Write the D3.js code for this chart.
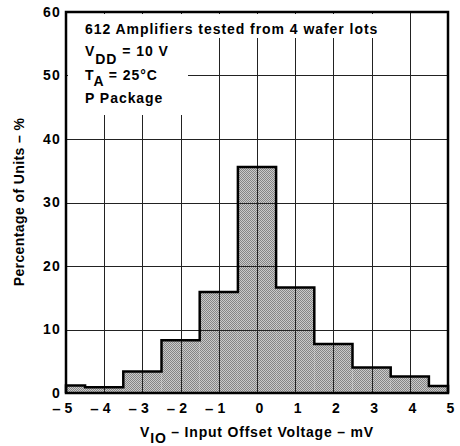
<!DOCTYPE html>
<html>
<head>
<meta charset="utf-8">
<script src="https://cdn.jsdelivr.net/npm/d3@7"></script>
<style>
  html, body { margin: 0; padding: 0; background: #fff; }
  svg { display: block; font-family: "Liberation Sans", Arial, Helvetica, sans-serif; font-weight: bold; }
</style>
</head>
<body>
<svg id="chart" width="460" height="446"></svg>
<script>
// ---- data ----
const binStart = [-5, -4.5, -3.5, -2.5, -1.5, -0.5, 0.5, 1.5, 2.5, 3.5, 4.5];
const binEnd   = [-4.5, -3.5, -2.5, -1.5, -0.5, 0.5, 1.5, 2.5, 3.5, 4.5, 5];
const percent  = [1.2, 0.9, 3.4, 8.3, 15.9, 35.6, 16.6, 7.7, 4.0, 2.6, 1.1];
const xTicks = [-5, -4, -3, -2, -1, 0, 1, 2, 3, 4, 5];
const yTicks = [0, 10, 20, 30, 40, 50, 60];
const titleLine = "612 Amplifiers tested from 4 wafer lots";

const svg = d3.select("#chart");
const x = d3.scaleLinear().domain([-5, 5]).range([66, 448]);
const y = d3.scaleLinear().domain([0, 60]).range([393, 12]);

// pattern for stipple fill
const defs = svg.append("defs");
const pat = defs.append("pattern").attr("id", "stip").attr("patternUnits", "userSpaceOnUse")
  .attr("width", 2).attr("height", 2);
pat.append("rect").attr("width", 2).attr("height", 2).attr("fill", "#cacaca");
pat.append("rect").attr("x", 0).attr("y", 0).attr("width", 1).attr("height", 1).attr("fill", "#858585");
pat.append("rect").attr("x", 1).attr("y", 1).attr("width", 1).attr("height", 1).attr("fill", "#858585");

const bins = binStart.map((s, i) => ({ s, e: binEnd[i], v: percent[i] }));

// bars fill
svg.append("g").selectAll("rect").data(bins).join("rect")
  .attr("x", d => x(d.s)).attr("width", d => x(d.e) - x(d.s))
  .attr("y", d => y(d.v)).attr("height", d => y(0) - y(d.v))
  .attr("fill", "url(#stip)");

// grid
const grid = svg.append("g").attr("stroke", "#222").attr("stroke-width", 1);
grid.selectAll("line.v").data(xTicks.slice(1, -1)).join("line")
  .attr("x1", d => Math.round(x(d)) + 0.5).attr("x2", d => Math.round(x(d)) + 0.5)
  .attr("y1", y(60)).attr("y2", y(0));
grid.selectAll("line.h").data(yTicks.slice(1, -1)).join("line")
  .attr("y1", d => Math.round(y(d)) + 0.5).attr("y2", d => Math.round(y(d)) + 0.5)
  .attr("x1", x(-5)).attr("x2", x(5));

// histogram outline
const pts = bins.map(d => [d.s, d.v]).concat([[5, percent[percent.length - 1]]]);
const outline = [[-5, 0]].concat(pts).concat([[5, 0]]);
const line = d3.line().x(d => x(d[0])).y(d => y(d[1])).curve(d3.curveStepAfter);
svg.append("path").attr("d", line(outline)).attr("fill", "none")
  .attr("stroke", "#000").attr("stroke-width", 2.5).attr("stroke-linejoin", "miter");

// white boxes behind annotation text
svg.append("rect").attr("x", x(-5) + 2).attr("y", y(60) + 2).attr("width", 314).attr("height", 24).attr("fill", "#fff");
svg.append("rect").attr("x", x(-5) + 2).attr("y", y(60) + 2).attr("width", 120).attr("height", 101).attr("fill", "#fff");

// frame
svg.append("rect").attr("x", x(-5)).attr("y", y(60)).attr("width", x(5) - x(-5)).attr("height", y(0) - y(60))
  .attr("fill", "none").attr("stroke", "#000").attr("stroke-width", 2.5);

// axes
const yAxis = d3.axisLeft(y).tickValues(yTicks).tickSize(0).tickPadding(6);
const gy = svg.append("g").attr("transform", `translate(${x(-5)},0)`).call(yAxis);
gy.select(".domain").remove();
gy.selectAll("text").attr("font-size", 14).attr("font-weight", "bold").attr("fill", "#000")
  .attr("letter-spacing", 1.2).attr("dx", 1)
  .attr("font-family", "Liberation Sans, Arial, sans-serif");

const xAxis = d3.axisBottom(x).tickValues(xTicks).tickFormat(d => String(Math.abs(d))).tickSize(0).tickPadding(10);
const gx = svg.append("g").attr("transform", `translate(0,${y(0)})`).call(xAxis);
gx.select(".domain").remove();
gx.selectAll("text").attr("font-size", 14).attr("font-weight", "bold").attr("fill", "#000")
  .attr("dx", 2).attr("font-family", "Liberation Sans, Arial, sans-serif");
// minus signs for negative ticks, placed left of the digit
gx.selectAll(".tick").filter(d => d < 0).append("text")
  .attr("x", -6).attr("y", 10).attr("dy", "0.71em")
  .attr("text-anchor", "end").attr("font-size", 15).attr("fill", "#000")
  .attr("font-family", "Liberation Sans, Arial, sans-serif")
  .text("\u2013");

// annotation
const ann = svg.append("g").attr("font-size", 14).attr("fill", "#000").attr("letter-spacing", 0.95);
ann.append("text").attr("x", 85).attr("y", 34).text(titleLine);
const t1 = ann.append("text").attr("x", 85).attr("y", 56);
t1.append("tspan").text("V");
t1.append("tspan").attr("dy", 8).text("DD");
t1.append("tspan").attr("dy", -8).text(" = 10 V");
const t2 = ann.append("text").attr("x", 85).attr("y", 80);
t2.append("tspan").text("T");
t2.append("tspan").attr("dy", 6).text("A");
t2.append("tspan").attr("dy", -6).text(" = 25\u00B0C");
ann.append("text").attr("x", 85).attr("y", 103).text("P Package");

// axis titles
const xl = svg.append("text").attr("x", 257).attr("y", 437).attr("text-anchor", "middle")
  .attr("font-size", 14).attr("letter-spacing", 0.8);
xl.append("tspan").text("V");
xl.append("tspan").attr("dy", 6).text("IO");
xl.append("tspan").attr("dy", -6).text(" \u2013 Input Offset Voltage \u2013 mV");

svg.append("text").attr("transform", "translate(24,202) rotate(-90)").attr("text-anchor", "middle")
  .attr("font-size", 14).attr("letter-spacing", 0.4).text("Percentage of Units \u2013 %");
</script>
</body>
</html>
